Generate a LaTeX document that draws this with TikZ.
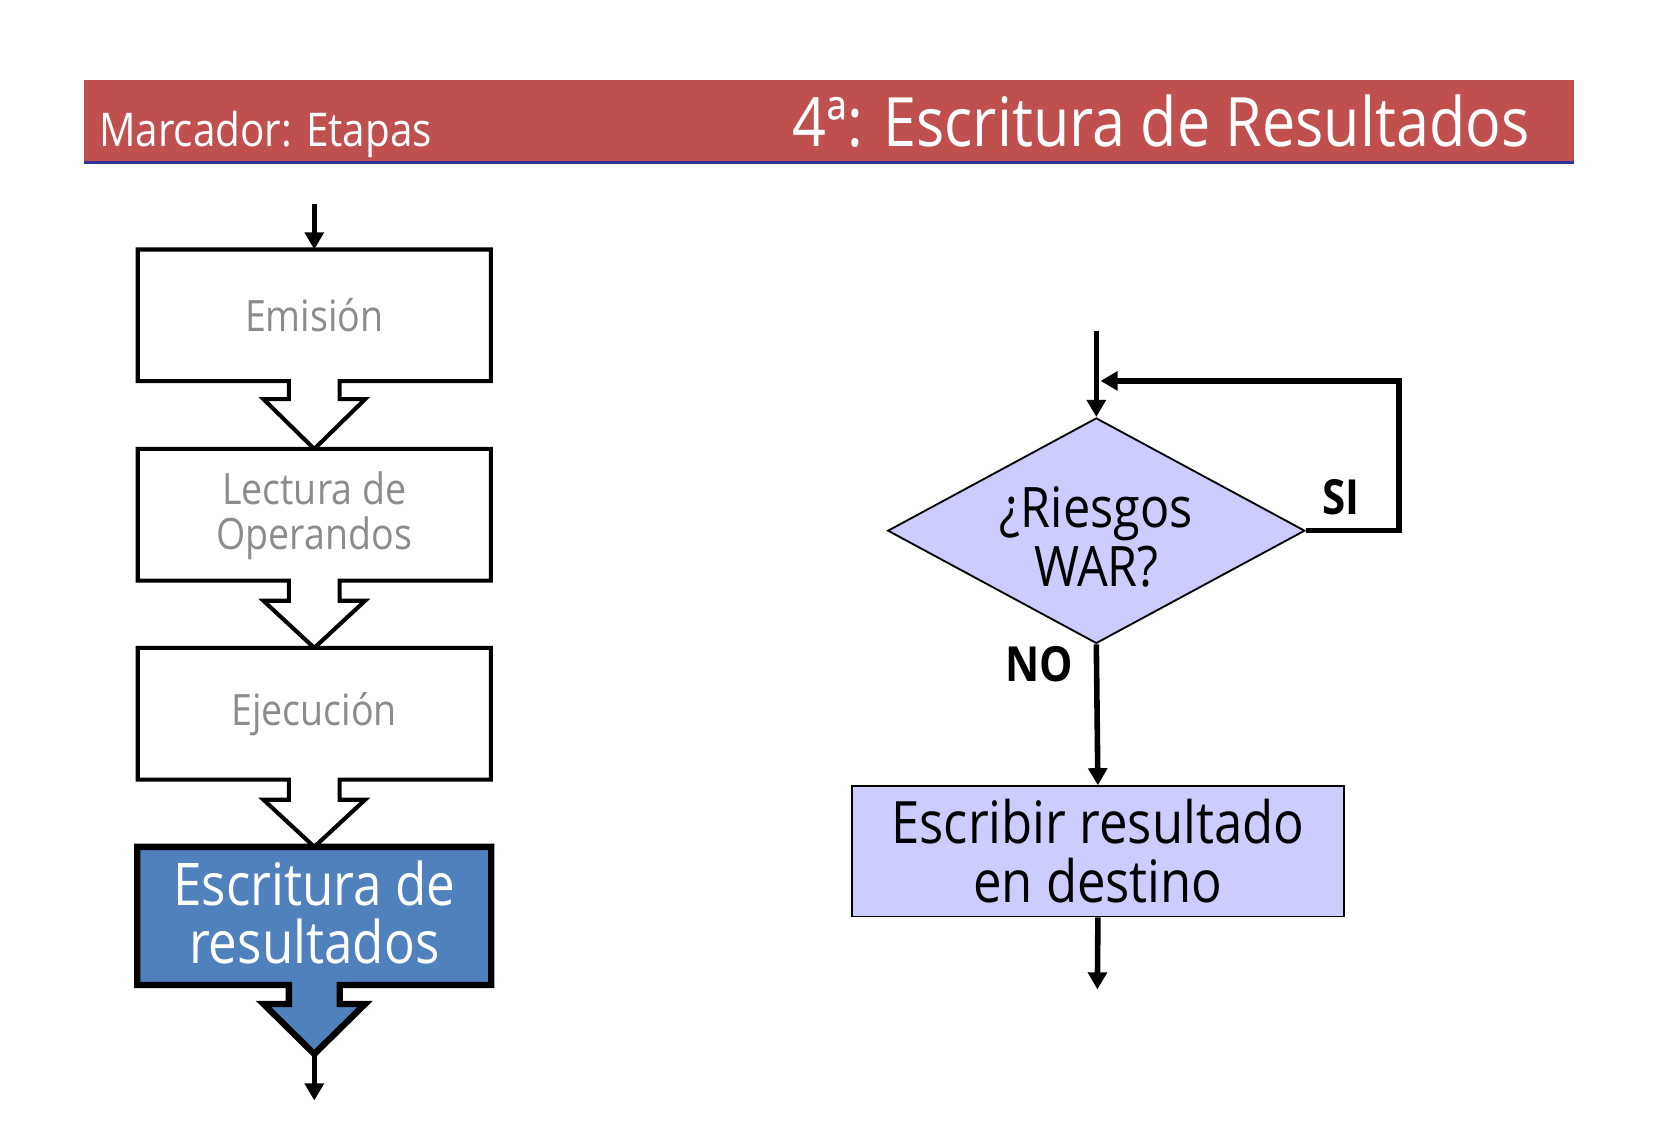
\documentclass[tikz,border=0pt]{standalone}
\usepackage{fontspec}
\setmainfont{Open Sans}[FakeStretch=0.87]
\usetikzlibrary{calc,arrows.meta,shapes.geometric}
\definecolor{hdrred}{HTML}{C0504D}
\definecolor{hdrblue}{HTML}{333399}
\definecolor{stageblue}{HTML}{4F81BD}
\definecolor{lav}{HTML}{CCCCFF}
\definecolor{gtext}{HTML}{8C8C8C}
\begin{document}
\begin{tikzpicture}[x=0.01cm,y=-0.01cm,
  arr/.style={line width=1.5pt,-{Triangle[length=4.6pt,width=5pt]}},
  stagebox/.style={minimum width=3.32cm,minimum height=1.23cm,inner sep=0pt,align=center,text=gtext,font=\fontsize{11.6}{12.2}\selectfont},
  blk/.style={line width=1.1pt,fill=white,line join=miter},
  blkhi/.style={line width=1.7pt,fill=stageblue,line join=miter},
  lavbox/.style={draw,line width=0.5pt,fill=lav,minimum width=4.65cm,minimum height=1.23cm,inner sep=0pt,align=center,font=\fontsize{15.7}{15.9}\selectfont},
  lab/.style={font=\bfseries\fontsize{13}{13}\selectfont,inner sep=0pt}]
\useasboundingbox (0,0) rectangle (1563,1080);
% header
\fill[hdrred] (79,76) rectangle (1487,152);
\fill[hdrblue] (79,152) rectangle (1487,155);
\node[anchor=base west,text=white,inner sep=0pt,font=\fontsize{12.5}{13}\selectfont] (hl) at (93,138) {Marcador: Etapas};
\node[anchor=base east,text=white,inner sep=0pt,font=\fontsize{18.3}{19}\selectfont] (hr) at (1446,138) {4ª: Escritura de Resultados};
% left pipeline
\node[stagebox] (e) at (297,298) {};
\node[stagebox] (l) at (297,486.5) {};
\node[stagebox] (x) at (297,674.5) {};
\node[stagebox,minimum width=3.33cm,minimum height=1.29cm] (w) at (297,865.5) {};
\coordinate (ein) at (297,193);
\coordinate (wtip) at (297,996);
\coordinate (wend) at (297,1040);
\draw[blk] (e.south west) -- ($(e.south)+(-24,0)$) -- ++(0,17) -- ++(-24,0) -- (l.north) -- ($(e.south)+(48,17)$) -- ++(-24,0) -- ($(e.south)+(24,0)$) -- (e.south east) -- (e.north east) -- (e.north west) -- cycle;
\draw[blk] (l.south west) -- ($(l.south)+(-24,0)$) -- ++(0,19) -- ++(-24,0) -- (x.north) -- ($(l.south)+(48,19)$) -- ++(-24,0) -- ($(l.south)+(24,0)$) -- (l.south east) -- (l.north east) -- (l.north west) -- cycle;
\draw[blk] (x.south west) -- ($(x.south)+(-24,0)$) -- ++(0,19) -- ++(-24,0) -- (w.north) -- ($(x.south)+(48,19)$) -- ++(-24,0) -- ($(x.south)+(24,0)$) -- (x.south east) -- (x.north east) -- (x.north west) -- cycle;
\draw[blkhi] (w.south west) -- ($(w.south)+(-24,0)$) -- ++(0,18) -- ++(-24,0) -- (wtip) -- ($(w.south)+(48,18)$) -- ++(-24,0) -- ($(w.south)+(24,0)$) -- (w.south east) -- (w.north east) -- (w.north west) -- cycle;
\node[align=center,text=white,font=\fontsize{15.8}{15.6}\selectfont] (wt) at ($(w.center)+(0,-3)$) {Escritura de\\resultados};
\node[align=center,text=gtext,font=\fontsize{11.6}{12.2}\selectfont] (et) at (e.center) {Emisión};
\node[align=center,text=gtext,font=\fontsize{11.6}{12.2}\selectfont] (lt) at ($(l.center)+(0,1)$) {Lectura de\\Operandos};
\node[align=center,text=gtext,font=\fontsize{11.6}{12.2}\selectfont] (xt) at (x.center) {Ejecución};
\draw[arr] (ein) -- (e.north);
\draw[arr] (wtip) -- (wend);
% right flowchart
\node[diamond,draw,line width=0.5pt,fill=lav,minimum width=3.94cm,minimum height=2.13cm,inner sep=0pt,shape aspect=1.85] (d) at (1036,501.5) {};
\node[align=center,font=\fontsize{15}{15.9}\selectfont] (dt) at ($(d.center)+(0,6)$) {¿Riesgos\\WAR?};
\node[lavbox] (wb) at (1037.5,804.5) {Escribir resultado\\en destino};
\coordinate (din) at (1036,313);
\coordinate (loopR) at (1322,360);
\coordinate (join) at (1040,360);
\coordinate (wout) at (1037,935);
\draw[arr] (din) -- (d.north);
\draw[arr,line join=miter] (d.east) -| (loopR) -- (join);
\draw[arr] (d.south) -- (wb.north);
\draw[arr] (wb.south) -- (wout);
\node[lab] (si) at (1267,470) {SI};
\node[lab] (no) at (982,628) {NO};
\end{tikzpicture}
\end{document}
